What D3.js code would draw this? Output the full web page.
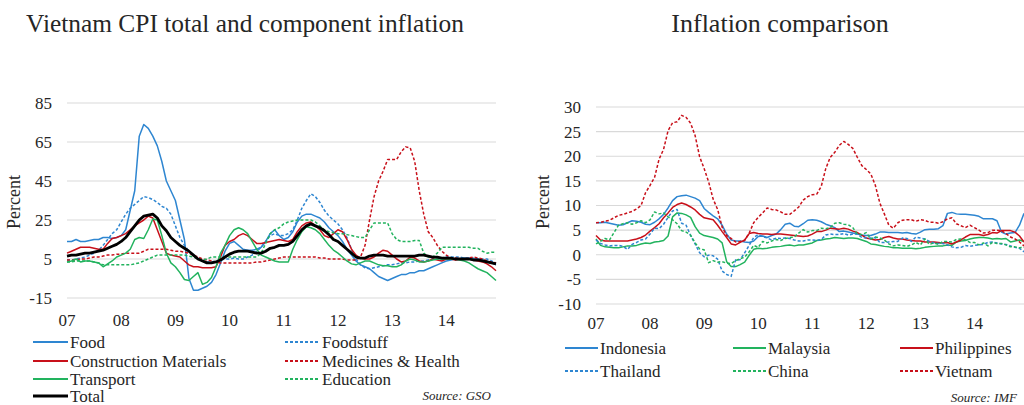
<!DOCTYPE html>
<html><head><meta charset="utf-8">
<script src="https://cdn.jsdelivr.net/npm/d3@7"></script>
<style>
body{margin:0;background:#fff;}
svg text{font-family:"Liberation Serif","DejaVu Serif","Times New Roman",Times,serif;}
</style></head>
<body><svg id="c" width="1024" height="405" font-family="Liberation Serif, DejaVu Serif, serif"></svg>
<script>
// ---------- DATA (monthly, Jan 2007 - Dec 2014) ----------
const yearLabels = ["07","08","09","10","11","12","13","14"];
const leftTicks = [-15,5,25,45,65,85];
const rightTicks = [-10,-5,0,5,10,15,20,25,30];

const food = [
14,14,15,14,14,14.5,15,15,16,16,15.5,16,
17,20,30,40,68,74,72,68,63,55,45,40,
35,25,15,-5,-11,-11,-10,-9,-7,-3,3,9,
13,14,12,10,9.5,9.5,10,11,14,18,20,17,
15,16,19,24,27,28,28,27,26,24,21,19,
17,14,10,7,4,2,1,0,-2,-4,-5,-6,
-5,-4,-3,-3,-2,-2,-1,-1,0,1,2,3,
4,4.5,5,5,5.5,5.5,5,5,4.5,4,3,2];
const foodstuff = [
4.5,4.5,5,5.5,6,7,8,9.5,12,15,18,20,
24,28,31,33,35,37,36.5,35.5,34,32,31,28,
22,16,12,9,7,5,4,3.5,3.5,4,4.5,5,
5,5.5,5,5,6,7,9,11,14,17,18,17,
17,18,20,25,31,35,38.5,37,34,30,27,25,
23,20,16,10,5,2,0.5,0,0.5,1,1.5,2,
2,2.5,3,3,3.5,3.5,4,4,4.5,5,5,5.5,
6,6,6,6,5.5,5.5,5.5,5,5,5,4,3];
const construction = [
8,9,10,11,11,11,10.5,10,10,13,15.5,16,
17,18,20,22,23.5,25,27,26,20,14,8,7,
6.5,6,4,2,1,1,0.5,0.5,0.5,1,6,12,
14,15,17,18,17,15,13,13,13.5,14,14.5,15,
14.5,14,15,19,22,23.5,24,22,20,17,16,18,
20,19,15,10,7,5.5,5,5,6,8,9.5,9,
7,5,3.5,4,6,5.5,4,3.5,4,5,4.5,4,
5,5,4.5,5,5,5,4.5,4,3.5,2.5,1,-1];
const medicines = [
4.5,4.5,4.5,5,5,5.5,6,6,6.5,7,7,7.5,
7.5,8,8,8,8,9,10,10,10,10,10,9.5,
9,9,8.5,8,7,6,5,4.5,4,3.5,3,3,
3,3,3,3,3,3,3.5,3.5,4,4.5,5,5.5,
6,6,6,6,6,6,6,6,5.5,5.5,5,5,
5,5,4.5,4.5,4.5,6,12,25,37,45,50,56,
56,56,60,62.5,62,55,40,28,19,16,12,9,
7,5.5,5.5,5,5,5.5,6,5.5,5,4,3.5,3];
const transport = [
3.5,4,5,3.5,4,4,3.5,3,1,2.5,4,6,
7,8,10,15,16,15.5,20,25.5,25,17,8,3,
1,-2,-5.5,-6,-4,-2,-8,-7,-4.5,1,8,12,
17,20,21,20,18,14,10,7,6,5,4,3.5,
3.5,3.5,10,15,19,21.5,21,20,18,15,12,9.6,
8,6,4,2.5,2,3,4,4,3,2,1.5,1.5,
1,1,2,4,5,4.5,3.5,3.5,4,4.5,5,5,
5,5,5,4.5,4,3,1.5,0,-1,-2,-4,-6];
const education = [
3.5,3.5,4,4,4,4,3.5,3,2,2,2,2,
2,2,2,2.5,3,4,5,6,7,7,7,7,
7,7,7,6.5,6,5,4.5,5,6,6,6,6,
6,6,6,6,6,6,6,8,13,18,20,21,
23,24,24.5,25,25,25,25,24,22,20,19,18.5,
18,18,17.5,17,16.5,16,16,20,23.5,23.5,23.5,23.5,
18,15,14,14,14,14.5,14.5,8,6,6,8,11,
11,11,11,11,11,11,10.5,10.5,9,8,8.5,8.5];
const total = [
6.5,7,7,7.5,8,8,8.5,9,9.5,10.5,11.5,12.5,
14,16,19,22,25,27,27.5,28,26,22,19.5,16,
14,12,10.5,9,7,5,4,3,3,3.5,4.5,6,
7.5,8.5,9,9,9,8.5,8,8,9,10.5,11,12,
12,12.5,14,17,20,22,23,22,21,19.5,17.5,15,
14,12,10,8,6,5.5,5.5,6.5,7,7,7,6.5,
6.5,6.5,6.5,6.5,6.5,6.5,7,7,6.5,6,6,5.5,
5.5,5.5,5,5,5,5,4.5,4.5,4,3.5,3,2.5];

const indonesia = [
6.5,6.5,6.6,6.4,6.2,6.0,6.1,6.5,6.9,6.8,6.6,6.2,
6.1,6.6,7.3,8.2,9.5,11.0,11.8,12.0,12.1,11.8,11.5,11.0,
9.4,8.6,7.9,7.3,6.0,4.2,3.0,2.8,2.8,2.6,2.5,2.8,
3.7,3.8,3.5,3.9,4.2,5.1,6.2,6.4,5.8,5.7,6.3,7.0,
7.1,7.0,6.7,6.2,5.9,5.5,4.7,4.8,4.6,4.4,4.2,4.0,
3.9,3.9,4.2,4.6,4.6,4.5,4.5,4.5,4.4,4.5,4.3,4.2,
4.6,5.1,5.2,5.2,5.3,5.9,8.4,8.6,8.3,8.2,8.2,8.1,
8.0,7.8,7.3,7.3,7.3,6.9,4.6,4.2,4.4,4.5,6.0,8.4];
const malaysia = [
3.2,1.9,1.6,1.5,1.4,1.4,1.6,1.8,1.8,1.9,2.2,2.4,
2.3,2.6,2.7,2.9,3.8,7.7,8.5,8.4,8.1,7.6,5.7,4.4,
3.9,3.7,3.5,3.2,2.4,-1.4,-2.4,-2.4,-2.0,-1.5,-0.1,1.1,
1.3,1.2,1.3,1.5,1.6,1.7,1.9,2.0,1.8,2.0,2.0,2.2,
2.4,2.9,3.0,3.2,3.3,3.5,3.4,3.3,3.4,3.4,3.3,3.0,
2.7,2.2,2.1,1.9,1.7,1.6,1.4,1.4,1.3,1.3,1.3,1.2,
1.3,1.5,1.6,1.7,1.8,1.8,2.0,1.9,2.6,2.8,2.9,3.2,
3.4,3.5,3.5,3.4,3.2,3.3,3.2,3.3,2.6,2.8,3.0,2.7];
const philippines = [
3.9,3.0,2.8,2.8,2.8,2.8,2.8,2.8,3.0,3.2,3.5,4.0,
4.8,5.5,6.3,7.5,8.5,9.6,10.2,10.5,10.2,9.7,9.1,8.2,
7.5,7.3,7.1,6.0,4.7,3.5,2.2,2.0,2.5,3.0,4.3,4.5,
4.3,4.2,4.2,4.1,4.2,4.2,4.1,4.0,3.9,3.8,3.7,3.8,
4.2,4.7,4.7,5.0,5.4,5.3,5.2,5.4,5.2,4.8,4.5,4.0,
3.4,3.2,3.0,3.1,3.5,3.7,3.4,3.2,3.2,3.0,2.9,2.8,
2.8,2.6,2.6,2.6,2.5,2.4,2.5,2.2,2.6,3.0,3.6,4.1,
4.1,4.1,3.9,4.1,4.5,4.4,4.9,4.9,4.9,4.6,3.8,2.6];
const thailand = [
3.0,2.3,2.0,1.8,1.9,1.9,1.7,1.1,2.1,2.5,3.0,3.2,
4.2,5.4,5.3,6.2,7.6,8.9,9.2,6.4,6.0,3.9,2.2,0.4,
-0.4,-0.1,-0.2,-0.9,-3.3,-4.0,-4.4,-1.0,-1.0,0.4,1.9,3.5,
4.1,3.7,3.4,3.0,3.4,3.3,3.4,3.3,3.0,2.8,2.8,3.0,
3.0,2.9,3.1,4.0,4.2,4.1,4.1,4.3,4.0,4.2,4.2,3.5,
3.4,3.4,3.5,2.5,2.5,2.6,2.7,2.7,3.4,3.3,2.7,3.6,
3.4,3.2,2.7,2.4,2.3,2.3,2.0,1.6,1.4,1.5,1.9,1.7,
1.9,2.0,2.1,2.5,2.6,2.4,2.2,2.1,1.8,1.5,1.3,0.6];
const china = [
2.2,2.7,3.3,3.0,4.5,6.0,6.3,6.5,6.2,6.5,6.9,6.5,
7.1,8.7,8.3,8.5,7.7,7.1,6.3,4.9,4.6,4.0,2.4,1.2,
1.0,-1.6,-1.2,-1.5,-1.4,-1.7,-1.8,-1.2,-0.8,-0.5,0.6,1.9,
1.5,2.7,2.4,2.8,3.1,2.9,3.3,3.5,3.6,4.4,5.1,4.6,
4.9,4.9,5.4,5.3,5.5,6.4,6.5,6.2,6.1,5.5,4.2,4.1,
4.5,3.2,3.6,3.4,3.0,2.2,1.8,2.0,1.9,1.7,2.0,2.5,
2.0,3.2,2.1,2.4,2.1,2.7,2.7,2.6,3.1,3.2,3.0,2.5,
2.5,2.0,2.4,1.8,2.5,2.3,2.3,2.0,1.6,1.6,1.4,1.5];
const vietnam = [
6.5,6.6,6.8,7.0,7.5,8.0,8.2,8.5,8.8,9.3,10.0,12.6,
14.1,15.7,19.4,21.4,25.2,26.8,27.0,28.3,27.9,26.7,24.2,19.9,
17.5,14.8,11.3,9.2,5.6,3.9,3.3,2.6,2.7,2.9,4.4,6.5,
7.6,8.5,9.5,9.2,9.1,8.7,8.2,8.2,8.9,9.7,11.1,11.8,
12.2,12.3,13.9,17.5,19.8,20.8,22.2,23.0,22.4,21.6,19.8,18.1,
17.3,16.4,14.1,10.5,8.3,6.0,5.4,6.5,7.0,7.1,7.1,6.8,
7.1,7.0,6.6,6.6,6.4,6.7,7.3,7.5,6.3,5.9,5.5,6.0,
5.5,5.0,4.4,4.5,5.0,5.0,4.9,4.3,3.6,3.2,2.6,1.8];

const leftSeries = [
 {name:"Food", values:food, color:"#2e86d1", dash:null, w:1.5},
 {name:"Foodstuff", values:foodstuff, color:"#2e86d1", dash:"3,2", w:1.5},
 {name:"Construction Materials", values:construction, color:"#c8101a", dash:null, w:1.5},
 {name:"Medicines & Health", values:medicines, color:"#c8101a", dash:"3,2", w:1.5},
 {name:"Transport", values:transport, color:"#22b35e", dash:null, w:1.5},
 {name:"Education", values:education, color:"#22b35e", dash:"3,2", w:1.5},
 {name:"Total", values:total, color:"#000000", dash:null, w:2.8}
];
const rightSeries = [
 {name:"Indonesia", values:indonesia, color:"#2e86d1", dash:null, w:1.5},
 {name:"Malaysia", values:malaysia, color:"#22b35e", dash:null, w:1.5},
 {name:"Philippines", values:philippines, color:"#c8101a", dash:null, w:1.5},
 {name:"Thailand", values:thailand, color:"#2e86d1", dash:"3,2", w:1.5},
 {name:"China", values:china, color:"#22b35e", dash:"3,2", w:1.5},
 {name:"Vietnam", values:vietnam, color:"#c8101a", dash:"3,2", w:1.5}
];

const FONT = "Liberation Serif, DejaVu Serif, serif";
const svg = d3.select("#c");
const textColor = "#262626";

function panel(cfg){
  const x = d3.scaleLinear().domain([0,95]).range([cfg.x0,cfg.x1]);
  const y = d3.scaleLinear().domain(cfg.ydom).range(cfg.yr);
  const g = svg.append("g").attr("font-family",FONT);
  g.selectAll("line.grid").data(cfg.ticks).join("line")
    .attr("x1",cfg.x0).attr("x2",cfg.x1)
    .attr("y1",d=>y(d)).attr("y2",d=>y(d))
    .attr("stroke","#d9d9d9").attr("stroke-width",1.2);
  g.selectAll("text.yl").data(cfg.ticks).join("text")
    .attr("font-family",FONT)
    .attr("x",cfg.ylx).attr("y",d=>y(d)).attr("dy","0.35em")
    .attr("text-anchor","end").attr("font-size",17).attr("fill",textColor)
    .text(d=>d);
  g.selectAll("text.xl").data(yearLabels).join("text")
    .attr("font-family",FONT)
    .attr("x",(d,i)=>x(i*12)).attr("y",cfg.xly)
    .attr("text-anchor","middle").attr("font-size",17).attr("fill",textColor)
    .text(d=>d);
  g.append("text").attr("font-family",FONT).attr("transform",`translate(${cfg.ptx},${cfg.pty}) rotate(-90)`)
    .attr("text-anchor","middle").attr("font-size",18).attr("fill",textColor).text("Percent");
  g.append("text").attr("font-family",FONT).attr("x",cfg.tx).attr("y",32).attr("text-anchor","middle")
    .attr("font-size",cfg.tfs).attr("fill",textColor).text(cfg.title);
  const line = d3.line().x((d,i)=>x(i)).y(d=>y(d));
  g.selectAll("path.s").data(cfg.series).join("path")
    .attr("fill","none").attr("stroke",d=>d.color).attr("stroke-width",d=>d.w)
    .attr("stroke-dasharray",d=>d.dash).attr("stroke-linejoin","round")
    .attr("d",d=>line(d.values));
  cfg.series.forEach((s,i)=>{
    const p = cfg.legendPos(i);
    g.append("line").attr("x1",p[0]).attr("x2",p[0]+cfg.lw).attr("y1",p[1]).attr("y2",p[1])
      .attr("stroke",s.color).attr("stroke-width",s.name==="Total"?2.8:1.8).attr("stroke-dasharray",s.dash);
    g.append("text").attr("font-family",FONT).attr("x",p[0]+cfg.lw+2).attr("y",p[1]).attr("dy","0.33em")
      .attr("font-size",17).attr("fill",textColor).text(s.name);
  });
  g.append("text").attr("font-family",FONT).attr("x",cfg.srcx).attr("y",cfg.srcy).attr("text-anchor","end")
    .attr("font-size",13).attr("font-style","italic").attr("fill",textColor).text(cfg.source);
}

panel({
  x0:67, x1:496, ydom:[-15,85], yr:[298,103], ticks:leftTicks,
  ylx:52, xly:326, ptx:20, pty:202, tx:245, tfs:25.4,
  title:"Vietnam CPI total and component inflation",
  series:leftSeries, lw:35,
  legendPos:i=>{ const order=[[33,342],[285,342],[33,361],[285,361],[33,379],[285,379],[33,396]]; return order[i]; },
  srcx:491, srcy:400, source:"Source: GSO"
});
panel({
  x0:596, x1:1024, ydom:[-10,30], yr:[304,107], ticks:rightTicks,
  ylx:581, xly:329, ptx:549, pty:202, tx:780, tfs:26,
  title:"Inflation comparison",
  series:rightSeries, lw:33,
  legendPos:i=>{ const cols=[565,733,900]; return [cols[i%3], i<3?348:371]; },
  srcx:1017, srcy:402, source:"Source: IMF"
});
</script></body></html>
